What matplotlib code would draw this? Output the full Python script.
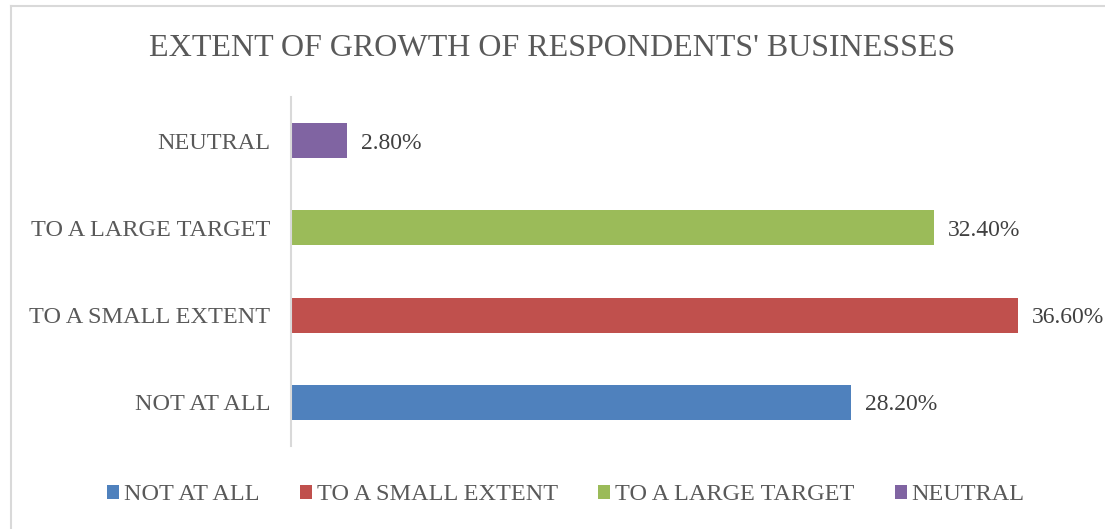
import matplotlib
matplotlib.use('Agg')
import matplotlib.pyplot as plt
from matplotlib.lines import Line2D
from matplotlib.patches import Patch

# Survey responses, bottom to top
categories = ['NOT AT ALL', 'TO A SMALL EXTENT', 'TO A LARGE TARGET', 'NEUTRAL']
percentages = [28.2, 36.6, 32.4, 2.8]
colors = ['#4F81BD', '#C0504D', '#9BBB59', '#8064A2']

plt.rcParams['font.family'] = ['Liberation Serif', 'DejaVu Serif']
text_color = '#595959'
label_color = '#404040'

fig = plt.figure(figsize=(11.05, 5.29), dpi=100)
ax = fig.add_axes([291 / 1105, 1 - 446 / 529, 794.4 / 1105, 349 / 529])

ax.barh(range(len(categories)), percentages, height=0.4, color=colors)
ax.set_xlim(0, 40)
ax.set_ylim(-0.5, 3.5)

for i, v in enumerate(percentages):
    ax.text(v + 0.7, i, f'{v:.2f}%', va='center_baseline', ha='left',
            fontsize=17, color=label_color)

ax.set_yticks(range(len(categories)))
ax.set_yticklabels(categories, fontsize=17.5, color=text_color)
ax.tick_params(axis='y', length=0, pad=15)
ax.set_xticks([])

for side in ['top', 'right', 'bottom']:
    ax.spines[side].set_visible(False)
ax.spines['left'].set_color('#d9d9d9')
ax.spines['left'].set_linewidth(1.5)

fig.text(0.5, 1 - 49 / 529, "EXTENT OF GROWTH OF RESPONDENTS' BUSINESSES",
         ha='center', va='center', fontsize=23, color=text_color)

handles = [Patch(facecolor=c, edgecolor='none') for c in colors]
fig.legend(handles, categories, loc='center', ncol=4,
           bbox_to_anchor=(566 / 1105, 1 - 495 / 529), frameon=False,
           fontsize=17.5, labelcolor=text_color,
           handlelength=0.5, handleheight=0.5, handletextpad=0.2,
           columnspacing=1.65)

# chart frame edges
fig.add_artist(Line2D([11 / 1105, 11 / 1105], [0, 1 - 6 / 529],
                      transform=fig.transFigure, color='#d9d9d9', lw=1.5))
fig.add_artist(Line2D([11 / 1105, 1], [1 - 6 / 529, 1 - 6 / 529],
                      transform=fig.transFigure, color='#d9d9d9', lw=1.5))

fig.savefig('out.png', dpi=100)
plt.close(fig)
